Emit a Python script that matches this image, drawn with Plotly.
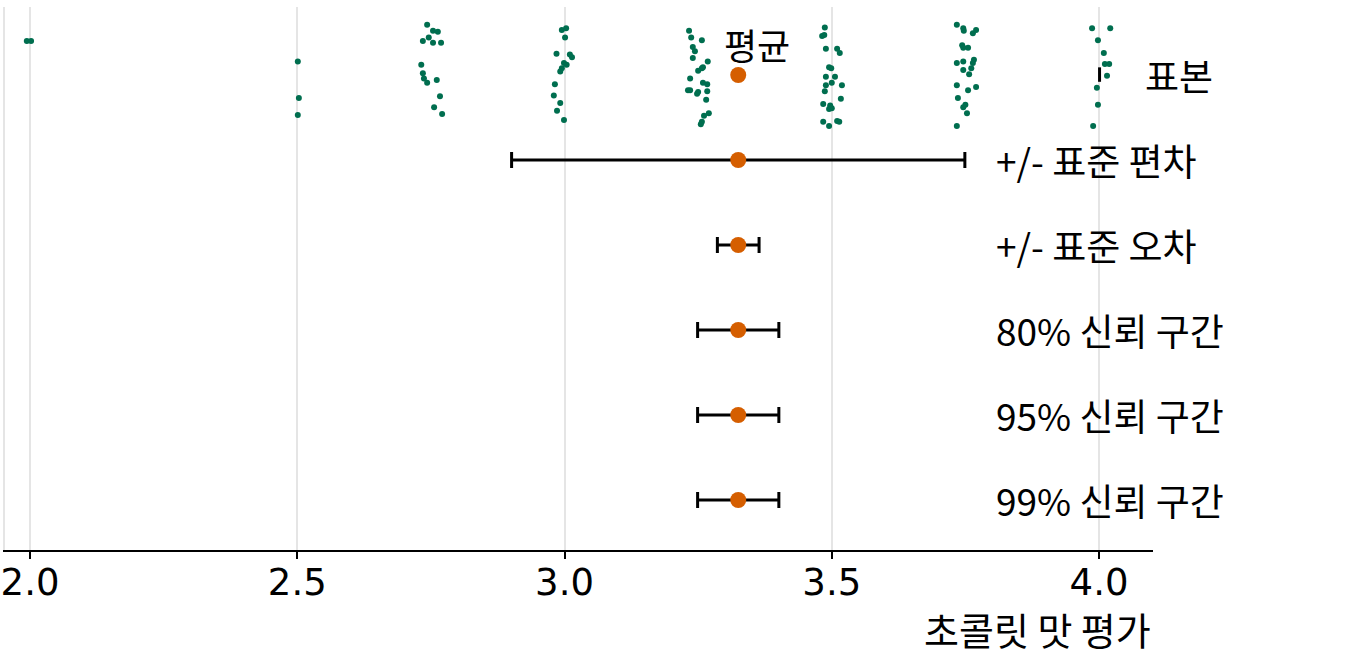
import plotly.graph_objects as go

# ---- data ----
sample_x = [
    1.994, 2.002,
    2.501, 2.503, 2.501,
    2.743, 2.754, 2.763, 2.735, 2.746, 2.754, 2.769, 2.732, 2.735, 2.737, 2.743, 2.761, 2.767, 2.756, 2.771,
    2.995, 3.003, 3.001, 2.985, 3.014, 3.010, 2.999, 3.004, 2.995, 2.992, 2.982, 2.980, 2.992, 2.986, 2.999,
    3.233, 3.237, 3.257, 3.240, 3.244, 3.240, 3.268, 3.259, 3.257, 3.250, 3.235, 3.259, 3.267, 3.231, 3.235,
    3.248, 3.250, 3.267, 3.265, 3.261, 3.270, 3.257, 3.255,
    3.487, 3.482, 3.486, 3.489, 3.510, 3.515, 3.495, 3.499, 3.489, 3.506, 3.489, 3.500, 3.519, 3.487, 3.517,
    3.484, 3.497, 3.495, 3.500, 3.484, 3.495, 3.510, 3.514,
    3.734, 3.746, 3.747, 3.764, 3.770, 3.744, 3.746, 3.755, 3.734, 3.746, 3.766, 3.764, 3.761, 3.746, 3.757,
    3.734, 3.770, 3.755, 3.736, 3.746, 3.750, 3.753, 3.734,
    3.987, 4.021, 3.998, 4.009, 4.011, 4.019, 4.015, 3.996, 3.998, 3.989,
]
sample_jitter = [
    0.40, 0.40,
    0.16, -0.27, -0.47,
    0.59, 0.52, 0.51, 0.40, 0.44, 0.38, 0.38, 0.12, 0.02, -0.04, -0.09, -0.06, -0.25, -0.38, -0.46,
    0.53, 0.55, 0.44, 0.25, 0.21, 0.24, 0.14, 0.12, 0.08, 0.04, -0.11, -0.24, -0.33, -0.42, -0.53,
    0.52, 0.44, 0.41, 0.33, 0.28, 0.20, 0.16, 0.09, 0.08, 0.05, -0.04, -0.09, -0.11, -0.18, -0.18,
    -0.22, -0.20, -0.19, -0.29, -0.48, -0.45, -0.55, -0.58,
    0.56, 0.46, 0.47, 0.31, 0.31, 0.26, 0.09, 0.08, -0.02, -0.02, -0.12, -0.09, -0.12, -0.19, -0.28,
    -0.34, -0.36, -0.40, -0.39, -0.55, -0.60, -0.54, -0.55,
    0.59, 0.55, 0.52, 0.49, 0.53, 0.35, 0.32, 0.32, 0.14, 0.16, 0.18, 0.14, 0.08, 0.06, 0.01,
    -0.12, -0.14, -0.18, -0.27, -0.38, -0.35, -0.45, -0.60,
    0.55, 0.55, 0.41, 0.26, 0.13, 0.13, -0.01, -0.15, -0.35, -0.60,
]

mean_value = 3.325
row_labels = ["표본", "+/- 표준 편차", "+/- 표준 오차", "80% 신뢰 구간", "95% 신뢰 구간", "99% 신뢰 구간"]
row_errors = [None, 0.424, 0.039, 0.076, 0.076, 0.076]
row_positions = [5, 4, 3, 2, 1, 0]

tick_values = [2.0, 2.5, 3.0, 3.5, 4.0]
tick_text = ["2.0", "2.5", "3.0", "3.5", "4.0"]
x_title = "초콜릿 맛 평가"
mean_label = "평균"

GREEN = "#006E4F"
ORANGE = "#D55E00"
TICK_FONT = "DejaVu Sans, sans-serif"
KR_FONT = "Noto Sans CJK KR, DejaVu Sans, sans-serif"

fig = go.Figure()

# jittered sample points
sample_y = [row_positions[0] + j for j in sample_jitter]
fig.add_trace(go.Scatter(
    x=sample_x, y=sample_y, mode="markers",
    marker=dict(color=GREEN, size=6, line=dict(width=0)),
    hoverinfo="skip", showlegend=False,
))

# mean in the sample row
fig.add_trace(go.Scatter(
    x=[mean_value], y=[row_positions[0]], mode="markers",
    marker=dict(color=ORANGE, size=16, line=dict(width=0)),
    showlegend=False,
))

# mean with error bars
err_rows = [i for i in range(len(row_labels)) if row_errors[i] is not None]
fig.add_trace(go.Scatter(
    x=[mean_value] * len(err_rows),
    y=[row_positions[i] for i in err_rows],
    mode="markers",
    marker=dict(color=ORANGE, size=16, line=dict(width=0)),
    error_x=dict(type="data", array=[row_errors[i] for i in err_rows], symmetric=True,
                 color="black", thickness=3, width=8),
    showlegend=False,
))

annotations = []
for i, lab in enumerate(row_labels):
    if i == 0:
        annotations.append(dict(x=4.082, y=row_positions[i], text=lab, xanchor="left", yanchor="middle",
                                showarrow=False, font=dict(size=37, color="black", family=KR_FONT)))
    else:
        annotations.append(dict(x=3.804, y=row_positions[i], text=lab, xanchor="left", yanchor="middle",
                                showarrow=False, font=dict(size=37, color="black", family=KR_FONT)))
annotations.append(dict(x=3.361, y=5.36, text=mean_label, xanchor="center", yanchor="middle",
                        showarrow=False, font=dict(size=36, color="black", family=KR_FONT)))
annotations.append(dict(x=1.0, xref="paper", y=-0.144, yref="paper", text=x_title, xanchor="right",
                        yanchor="middle", showarrow=False, font=dict(size=38, color="black", family=KR_FONT)))

fig.update_layout(
    width=1371, height=658,
    margin=dict(l=5, r=218, t=7, b=108, autoexpand=False),
    paper_bgcolor="white", plot_bgcolor="white",
    font=dict(family=TICK_FONT, size=37, color="black"),
    annotations=annotations,
    shapes=[dict(type="line", xref="x", yref="y", x0=4.001, x1=4.001, y0=4.92, y1=5.09,
                 line=dict(color="black", width=3))],
    xaxis=dict(
        range=[1.9532, 4.101], tickvals=tick_values, ticktext=tick_text,
        showgrid=True, gridcolor="#E5E5E5", gridwidth=2,
        showline=True, linecolor="black", linewidth=2,
        ticks="outside", ticklen=7, tickwidth=2, tickcolor="black",
        tickfont=dict(size=37, color="black", family=TICK_FONT),
        ticklabelstandoff=-8,
        zeroline=False, automargin=False,
    ),
    yaxis=dict(
        range=[-0.588, 5.8], showgrid=False, zeroline=False, automargin=False,
        showticklabels=False, showline=True, linecolor="#E5E5E5", linewidth=2,
    ),
)

fig.write_html("out.html", config={"displayModeBar": False},
               post_script="document.body.style.margin='0';document.body.style.padding='0';")
